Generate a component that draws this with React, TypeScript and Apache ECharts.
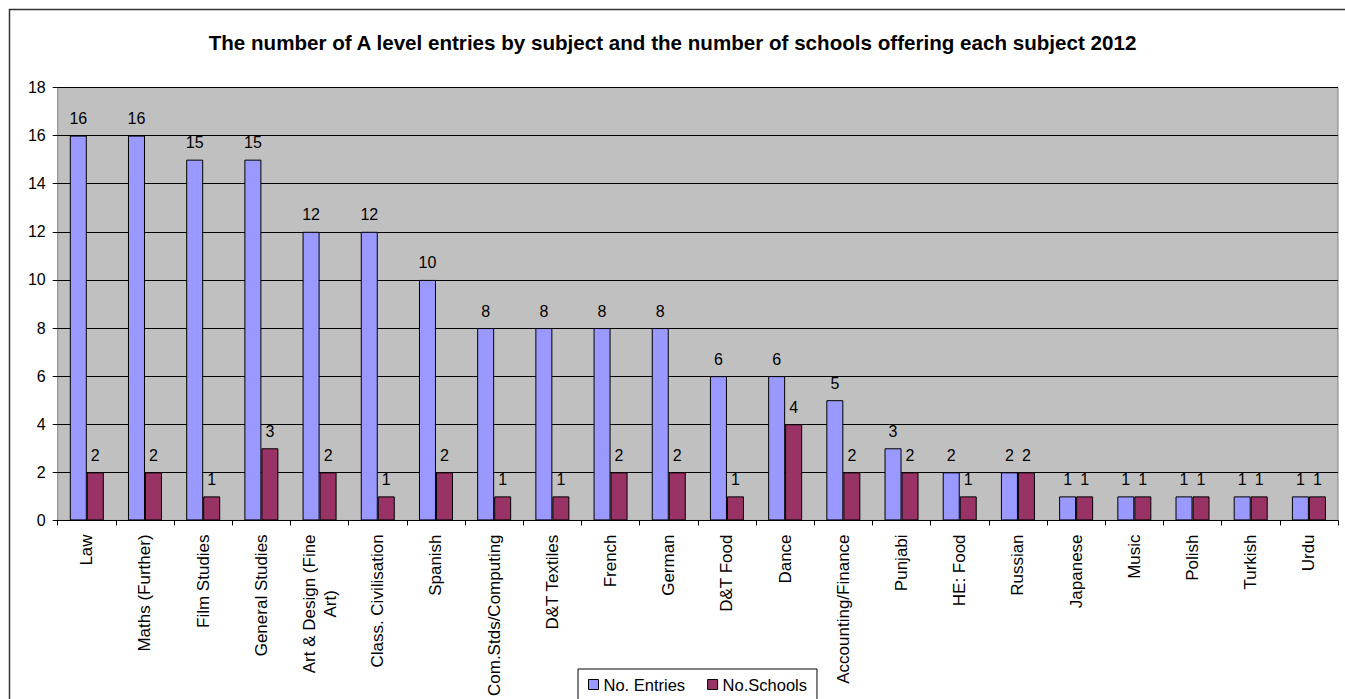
import React, { useEffect, useRef } from "react";
import * as echarts from "echarts";

const TITLE =
  "The number of A level entries by subject and the number of schools offering each subject 2012";

const categories = [
  "Law",
  "Maths (Further)",
  "Film Studies",
  "General Studies",
  "Art & Design (Fine Art)",
  "Class. Civilisation",
  "Spanish",
  "Com.Stds/Computing",
  "D&T Textiles",
  "French",
  "German",
  "D&T Food",
  "Dance",
  "Accounting/Finance",
  "Punjabi",
  "HE: Food",
  "Russian",
  "Japanese",
  "Music",
  "Polish",
  "Turkish",
  "Urdu",
];

const entries = [16, 16, 15, 15, 12, 12, 10, 8, 8, 8, 8, 6, 6, 5, 3, 2, 2, 1, 1, 1, 1, 1];
const schools = [2, 2, 1, 3, 2, 1, 2, 1, 1, 2, 2, 1, 4, 2, 2, 1, 2, 1, 1, 1, 1, 1];

const yTicks = { min: 0, max: 18, interval: 2 };

const FONT = 'Arial, "Liberation Sans", sans-serif';

export default function App() {
  const ref = useRef<HTMLDivElement>(null);

  useEffect(() => {
    if (!ref.current) return;
    const chart = echarts.init(ref.current, undefined, { renderer: "svg" });
    const labelStyle = {
      show: true,
      position: "top" as const,
      distance: 9,
      color: "#000",
      fontSize: 16,
      fontFamily: FONT,
    };
    chart.setOption({
      animation: false,
      backgroundColor: "#ffffff",
      title: {
        text: TITLE,
        left: "center",
        top: 32,
        padding: 0,
        textStyle: {
          fontFamily: FONT,
          fontSize: 20.6,
          fontWeight: "bold",
          color: "#000",
        },
      },
      graphic: [
        {
          type: "rect",
          left: 7,
          top: 7,
          shape: { x: 0, y: 0, width: 1400, height: 800 },
          style: { fill: "none", stroke: "#333", lineWidth: 1.5 },
          silent: true,
          z: -10,
        },
      ],
      legend: {
        left: 578,
        top: 669,
        orient: "horizontal",
        padding: [7, 10, 12, 10],
        itemGap: 22,
        itemWidth: 10,
        itemHeight: 10,
        borderColor: "#000",
        borderWidth: 1,
        backgroundColor: "#fff",
        icon: "rect",
        textStyle: { fontFamily: FONT, fontSize: 16.5, color: "#000" },
        data: [
          { name: "No. Entries", itemStyle: { borderColor: "#000", borderWidth: 1 } },
          { name: "No.Schools", itemStyle: { borderColor: "#000", borderWidth: 1 } },
        ],
      },
      grid: {
        left: 57.7,
        right: 7,
        top: 87.5,
        bottom: 178.5,
        show: true,
        backgroundColor: "#C0C0C0",
        borderColor: "#808080",
        borderWidth: 1,
        containLabel: false,
      },
      xAxis: {
        type: "category",
        data: categories,
        boundaryGap: true,
        axisLine: { show: true, lineStyle: { color: "#000", width: 1 } },
        axisTick: {
          show: true,
          interval: 0,
          alignWithLabel: false,
          length: 5,
          lineStyle: { color: "#000" },
        },
        axisLabel: {
          interval: 0,
          rotate: 90,
          margin: 14,
          color: "#000",
          fontSize: 17,
          fontFamily: FONT,
          lineHeight: 21,
          formatter: (v: string) =>
            v
              .replace(" (Fine Art)", " (Fine\nArt)")
              .split("\n")
              .map((l) => `{c|${l}}`)
              .join("\n"),
          rich: {
            c: {
              align: "center",
              fontSize: 17,
              fontFamily: FONT,
              color: "#000",
              lineHeight: 21,
            },
          },
        },
        splitLine: { show: false },
      },
      yAxis: {
        type: "value",
        min: yTicks.min,
        max: yTicks.max,
        interval: yTicks.interval,
        axisLine: { show: false },
        axisTick: { show: true, length: 5, lineStyle: { color: "#000" } },
        axisLabel: {
          margin: 12,
          color: "#000",
          fontSize: 16,
          fontFamily: FONT,
        },
        splitLine: { show: true, lineStyle: { color: "#000", width: 1 } },
      },
      series: [
        {
          name: "No. Entries",
          type: "bar",
          data: entries,
          barWidth: 17,
          barGap: "0%",
          itemStyle: { color: "#9999FF", borderColor: "#000", borderWidth: 1 },
          label: labelStyle,
        },
        {
          name: "No.Schools",
          type: "bar",
          data: schools,
          barWidth: 17,
          barGap: "0%",
          itemStyle: { color: "#993366", borderColor: "#000", borderWidth: 1 },
          label: labelStyle,
        },
      ],
    });
    return () => chart.dispose();
  }, []);

  return (
    <div
      ref={ref}
      style={{ position: "fixed", left: 0, top: 0, width: 1345, height: 699 }}
    />
  );
}
